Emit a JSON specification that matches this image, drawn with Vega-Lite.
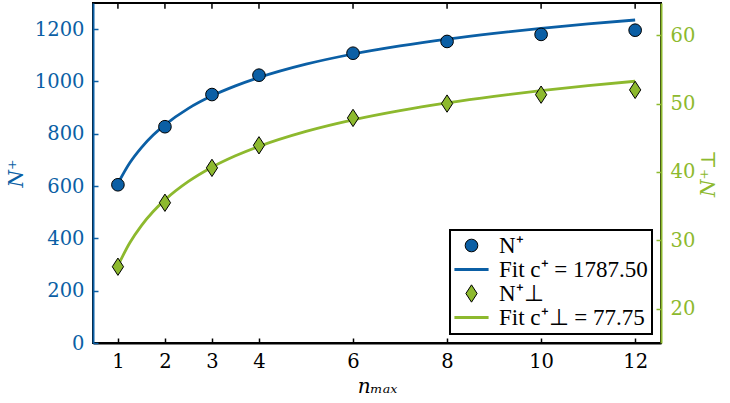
{
  "$schema": "https://vega.github.io/schema/vega-lite/v6.json",
  "width": 568,
  "height": 340,
  "autosize": "none",
  "padding": {"left": 93, "top": 3, "right": 69, "bottom": 60},
  "background": "white",
  "config": {
    "view": {"stroke": "black", "strokeWidth": 2},
    "font": "DejaVu Serif",
    "axis": {"grid": false, "labelFont": "DejaVu Serif", "titleFont": "DejaVu Serif", "labelFontSize": 19.5, "titleFontSize": 20, "titleFontWeight": "normal", "tickSize": -5, "labelPadding": 14, "domainWidth": 2, "tickWidth": 1.5, "format": "d"},
    "legend": {"orient": "bottom-right", "offset": 9, "labelFont": "Liberation Serif", "labelFontSize": 23, "strokeColor": "black", "strokeWidth": 2, "fillColor": "white", "padding": 4, "rowPadding": 0, "symbolOffset": 6, "labelOffset": 16, "labelLimit": 300, "cornerRadius": 0}
  },
  "datasets": {
    "obsP": [
      {"n": 1, "value": 605, "series": "N⁺"},
      {"n": 2, "value": 827, "series": "N⁺"},
      {"n": 3, "value": 950, "series": "N⁺"},
      {"n": 4, "value": 1024, "series": "N⁺"},
      {"n": 6, "value": 1108, "series": "N⁺"},
      {"n": 8, "value": 1153, "series": "N⁺"},
      {"n": 10, "value": 1180, "series": "N⁺"},
      {"n": 12, "value": 1196, "series": "N⁺"}
    ],
    "fitP": [
      {"n": 1, "value": 610, "series": "Fit c⁺ = 1787.50"},
      {"n": 1.25, "value": 688, "series": "Fit c⁺ = 1787.50"},
      {"n": 1.5, "value": 747, "series": "Fit c⁺ = 1787.50"},
      {"n": 1.75, "value": 795, "series": "Fit c⁺ = 1787.50"},
      {"n": 2, "value": 834, "series": "Fit c⁺ = 1787.50"},
      {"n": 2.5, "value": 897, "series": "Fit c⁺ = 1787.50"},
      {"n": 3, "value": 945, "series": "Fit c⁺ = 1787.50"},
      {"n": 3.5, "value": 983, "series": "Fit c⁺ = 1787.50"},
      {"n": 4, "value": 1015, "series": "Fit c⁺ = 1787.50"},
      {"n": 5, "value": 1066, "series": "Fit c⁺ = 1787.50"},
      {"n": 6, "value": 1105, "series": "Fit c⁺ = 1787.50"},
      {"n": 7, "value": 1136, "series": "Fit c⁺ = 1787.50"},
      {"n": 8, "value": 1162, "series": "Fit c⁺ = 1787.50"},
      {"n": 9, "value": 1184, "series": "Fit c⁺ = 1787.50"},
      {"n": 10, "value": 1203, "series": "Fit c⁺ = 1787.50"},
      {"n": 11, "value": 1220, "series": "Fit c⁺ = 1787.50"},
      {"n": 12, "value": 1235, "series": "Fit c⁺ = 1787.50"}
    ],
    "obsQ": [
      {"n": 1, "value": 26.15, "series": "N⁺⊥"},
      {"n": 2, "value": 35.5, "series": "N⁺⊥"},
      {"n": 3, "value": 40.6, "series": "N⁺⊥"},
      {"n": 4, "value": 43.9, "series": "N⁺⊥"},
      {"n": 6, "value": 47.9, "series": "N⁺⊥"},
      {"n": 8, "value": 50.0, "series": "N⁺⊥"},
      {"n": 10, "value": 51.3, "series": "N⁺⊥"},
      {"n": 12, "value": 52.0, "series": "N⁺⊥"}
    ],
    "fitQ": [
      {"n": 1, "value": 26.3, "series": "Fit c⁺⊥ = 77.75"},
      {"n": 1.25, "value": 29.62, "series": "Fit c⁺⊥ = 77.75"},
      {"n": 1.5, "value": 32.17, "series": "Fit c⁺⊥ = 77.75"},
      {"n": 1.75, "value": 34.22, "series": "Fit c⁺⊥ = 77.75"},
      {"n": 2, "value": 35.92, "series": "Fit c⁺⊥ = 77.75"},
      {"n": 2.5, "value": 38.62, "series": "Fit c⁺⊥ = 77.75"},
      {"n": 3, "value": 40.7, "series": "Fit c⁺⊥ = 77.75"},
      {"n": 3.5, "value": 42.36, "series": "Fit c⁺⊥ = 77.75"},
      {"n": 4, "value": 43.75, "series": "Fit c⁺⊥ = 77.75"},
      {"n": 5, "value": 45.94, "series": "Fit c⁺⊥ = 77.75"},
      {"n": 6, "value": 47.63, "series": "Fit c⁺⊥ = 77.75"},
      {"n": 7, "value": 48.98, "series": "Fit c⁺⊥ = 77.75"},
      {"n": 8, "value": 50.1, "series": "Fit c⁺⊥ = 77.75"},
      {"n": 9, "value": 51.06, "series": "Fit c⁺⊥ = 77.75"},
      {"n": 10, "value": 51.89, "series": "Fit c⁺⊥ = 77.75"},
      {"n": 11, "value": 52.62, "series": "Fit c⁺⊥ = 77.75"},
      {"n": 12, "value": 53.26, "series": "Fit c⁺⊥ = 77.75"}
    ]
  },
  "layer": [
    {
      "encoding": {
        "x": {"field": "n", "type": "quantitative", "scale": {"domain": [0.47, 12.55], "nice": false, "zero": false},
          "axis": {"orient": "bottom", "values": [1, 2, 3, 4, 6, 8, 10, 12], "title": "nₘₐₓ", "titleFontStyle": "italic", "titlePadding": 6, "labelColor": "black", "domainColor": "black", "tickColor": "black"}},
        "y": {"field": "value", "type": "quantitative", "scale": {"domain": [0, 1300], "nice": false},
          "axis": {"orient": "left", "values": [0, 200, 400, 600, 800, 1000, 1200], "title": "N⁺", "titleFontStyle": "italic", "titlePadding": 8, "labelColor": "#0b5fa5", "titleColor": "#0b5fa5", "domainColor": "#0b5fa5", "tickColor": "#0b5fa5"}}
      },
      "layer": [
        {
          "data": {"name": "obsP"},
          "mark": {"type": "rule", "color": "black", "strokeWidth": 1.5},
          "encoding": {
            "y": {"datum": 1300},
            "y2": {"datum": 1278}
          }
        },
        {
          "data": {"name": "fitP"},
          "mark": {"type": "line", "interpolate": "monotone"},
          "encoding": {
            "stroke": {"field": "series", "type": "nominal", "scale": {"domain": ["N⁺", "Fit c⁺ = 1787.50", "N⁺⊥", "Fit c⁺⊥ = 77.75"], "range": ["black", "#0b5fa5", "black", "#8db92e"]}, "title": null},
            "strokeWidth": {"field": "series", "type": "nominal", "scale": {"type": "ordinal", "domain": ["N⁺", "Fit c⁺ = 1787.50", "N⁺⊥", "Fit c⁺⊥ = 77.75"], "range": [1, 2.8, 1, 2.8]}, "title": null}
          }
        },
        {
          "data": {"name": "obsP"},
          "mark": {"type": "point", "filled": true, "opacity": 1},
          "encoding": {
            "color": {"field": "series", "type": "nominal", "scale": {"domain": ["N⁺", "Fit c⁺ = 1787.50", "N⁺⊥", "Fit c⁺⊥ = 77.75"], "range": ["#0b5fa5", "#0b5fa5", "#8db92e", "#8db92e"]}, "title": null},
            "stroke": {"field": "series", "type": "nominal", "scale": {"domain": ["N⁺", "Fit c⁺ = 1787.50", "N⁺⊥", "Fit c⁺⊥ = 77.75"], "range": ["black", "#0b5fa5", "black", "#8db92e"]}, "title": null},
            "strokeWidth": {"field": "series", "type": "nominal", "scale": {"type": "ordinal", "domain": ["N⁺", "Fit c⁺ = 1787.50", "N⁺⊥", "Fit c⁺⊥ = 77.75"], "range": [1, 2.8, 1, 2.8]}, "title": null},
            "shape": {"field": "series", "type": "nominal", "scale": {"domain": ["N⁺", "Fit c⁺ = 1787.50", "N⁺⊥", "Fit c⁺⊥ = 77.75"], "range": ["circle", "M-2.7,0H2.7", "M0,-1L0.65,0L0,1L-0.65,0Z", "M-2.7,0H2.7"]}, "title": null},
            "size": {"field": "series", "type": "nominal", "scale": {"type": "ordinal", "domain": ["N⁺", "Fit c⁺ = 1787.50", "N⁺⊥", "Fit c⁺⊥ = 77.75"], "range": [160, 160, 300, 160]}, "title": null}
          }
        }
      ]
    },
    {
      "encoding": {
        "x": {"field": "n", "type": "quantitative"},
        "y": {"field": "value", "type": "quantitative", "scale": {"domain": [15.0, 64.7], "nice": false, "zero": false},
          "axis": {"orient": "right", "values": [20, 30, 40, 50, 60], "title": "N⁺⊥", "titleFontStyle": "italic", "titleAngle": 270, "titlePadding": 24, "labelColor": "#8db92e", "titleColor": "#8db92e", "domainColor": "#8db92e", "tickColor": "#8db92e"}}
      },
      "layer": [
        {
          "data": {"name": "fitQ"},
          "mark": {"type": "line", "interpolate": "monotone"},
          "encoding": {
            "stroke": {"field": "series", "type": "nominal", "scale": {"domain": ["N⁺", "Fit c⁺ = 1787.50", "N⁺⊥", "Fit c⁺⊥ = 77.75"], "range": ["black", "#0b5fa5", "black", "#8db92e"]}, "title": null},
            "strokeWidth": {"field": "series", "type": "nominal", "scale": {"type": "ordinal", "domain": ["N⁺", "Fit c⁺ = 1787.50", "N⁺⊥", "Fit c⁺⊥ = 77.75"], "range": [1, 2.8, 1, 2.8]}, "title": null}
          }
        },
        {
          "data": {"name": "obsQ"},
          "mark": {"type": "point", "filled": true, "opacity": 1},
          "encoding": {
            "color": {"field": "series", "type": "nominal", "scale": {"domain": ["N⁺", "Fit c⁺ = 1787.50", "N⁺⊥", "Fit c⁺⊥ = 77.75"], "range": ["#0b5fa5", "#0b5fa5", "#8db92e", "#8db92e"]}, "title": null},
            "stroke": {"field": "series", "type": "nominal", "scale": {"domain": ["N⁺", "Fit c⁺ = 1787.50", "N⁺⊥", "Fit c⁺⊥ = 77.75"], "range": ["black", "#0b5fa5", "black", "#8db92e"]}, "title": null},
            "strokeWidth": {"field": "series", "type": "nominal", "scale": {"type": "ordinal", "domain": ["N⁺", "Fit c⁺ = 1787.50", "N⁺⊥", "Fit c⁺⊥ = 77.75"], "range": [1, 2.8, 1, 2.8]}, "title": null},
            "shape": {"field": "series", "type": "nominal", "scale": {"domain": ["N⁺", "Fit c⁺ = 1787.50", "N⁺⊥", "Fit c⁺⊥ = 77.75"], "range": ["circle", "M-2.7,0H2.7", "M0,-1L0.65,0L0,1L-0.65,0Z", "M-2.7,0H2.7"]}, "title": null},
            "size": {"field": "series", "type": "nominal", "scale": {"type": "ordinal", "domain": ["N⁺", "Fit c⁺ = 1787.50", "N⁺⊥", "Fit c⁺⊥ = 77.75"], "range": [160, 160, 300, 160]}, "title": null}
          }
        }
      ]
    }
  ],
  "resolve": {"scale": {"y": "independent"}}
}
